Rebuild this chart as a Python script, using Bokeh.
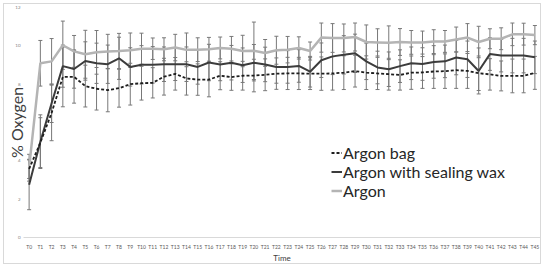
import math
from bokeh.plotting import figure
from bokeh.models import ColumnDataSource, FactorRange, Range1d, FixedTicker, Legend, LegendItem
from bokeh.embed import file_html
from bokeh.resources import INLINE

times = ["T0", "T1", "T2", "T3", "T4", "T5", "T6", "T7", "T8", "T9",
         "T10", "T11", "T12", "T13", "T14", "T15", "T16", "T17", "T18", "T19",
         "T20", "T21", "T22", "T23", "T24", "T25", "T26", "T27", "T28", "T29",
         "T30", "T31", "T32", "T33", "T34", "T35", "T36", "T37", "T38", "T39",
         "T40", "T41", "T42", "T43", "T44", "T45"]

argon_bag = [3.58, 4.95, 6.5, 8.38, 8.38, 7.90, 7.76, 7.69, 7.79, 8.00,
             8.05, 8.07, 8.39, 8.54, 8.30, 8.24, 8.24, 8.44, 8.37, 8.44,
             8.45, 8.49, 8.55, 8.56, 8.56, 8.55, 8.55, 8.56, 8.60, 8.68,
             8.60, 8.56, 8.52, 8.48, 8.60, 8.61, 8.66, 8.68, 8.73, 8.69,
             8.57, 8.51, 8.43, 8.43, 8.43, 8.59]
argon_bag_err = [0.5, 1.3, 1.45, 1.56, 1.37, 1.09, 1.11, 1.13, 0.99, 1.09,
                 0.88, 0.79, 0.96, 0.85, 0.87, 0.82, 0.9, 0.73, 0.69, 0.75,
                 0.85, 0.83, 0.82, 0.84, 0.84, 0.83, 0.87, 0.87, 0.88, 0.83,
                 0.88, 0.84, 0.83, 0.79, 0.87, 0.83, 0.88, 0.9, 0.95, 0.91,
                 0.9, 0.82, 0.78, 0.88, 0.88, 0.86]

argon_wax = [2.75, 5.0, 7.0, 8.94, 8.79, 9.21, 9.09, 9.04, 9.35, 8.90,
             9.01, 9.01, 9.04, 9.04, 9.04, 8.90, 9.13, 9.03, 9.12, 8.99,
             9.12, 9.03, 8.90, 8.90, 8.95, 8.65, 9.25, 9.45, 9.53, 9.61,
             9.19, 8.87, 8.78, 8.94, 9.09, 9.05, 9.16, 9.19, 9.39, 9.30,
             8.69, 9.57, 9.49, 9.49, 9.49, 9.40]
argon_wax_err = [1.3, 1.4, 1.0, 1.1, 1.0, 1.0, 1.05, 1.0, 1.1, 1.0,
                 1.0, 0.95, 0.9, 0.85, 0.9, 0.9, 0.95, 0.85, 0.9, 0.9,
                 0.95, 0.9, 0.85, 0.85, 0.85, 0.8, 0.9, 0.95, 1.0, 1.0,
                 0.95, 0.85, 0.9, 0.85, 0.85, 0.85, 0.85, 0.85, 0.9, 0.95,
                 1.2, 0.85, 0.85, 0.9, 0.9, 0.85]

argon = [3.64, 9.09, 9.19, 10.03, 9.71, 9.56, 9.66, 9.70, 9.73, 9.77,
         9.85, 9.85, 9.82, 9.91, 9.79, 9.80, 9.82, 9.89, 9.85, 9.73,
         9.74, 9.63, 9.77, 9.80, 9.89, 9.73, 10.43, 10.41, 10.41, 10.46,
         10.20, 10.18, 10.16, 10.20, 10.18, 10.17, 10.22, 10.23, 10.33, 10.43,
         10.20, 10.37, 10.37, 10.60, 10.61, 10.56]
argon_err = [0.7, 1.19, 1.19, 1.26, 0.83, 1.25, 1.14, 0.9, 0.92, 0.9,
             0.81, 0.56, 0.6, 0.69, 0.88, 0.62, 0.62, 0.57, 0.64, 0.82,
             1.5, 0.7, 0.73, 0.69, 0.58, 0.47, 0.76, 0.75, 0.73, 0.73,
             0.89, 0.71, 0.88, 0.7, 0.62, 0.6, 0.62, 0.57, 0.65, 0.73,
             0.82, 0.52, 0.57, 0.59, 0.57, 0.5]

y_ticks = [0, 2, 4, 6, 8, 10, 12]

FONT = "Lato"

p = figure(width=538, height=261,
           x_range=FactorRange(factors=times),
           y_range=Range1d(0, 12),
           output_backend="svg", toolbar_location=None,
           min_border_left=19, min_border_right=2,
           min_border_top=3, min_border_bottom=27,
           styles={"margin-left": "3px", "margin-top": "3px",
                   "border": "1px solid #d9d9d9"})
p.outline_line_color = None
p.xgrid.grid_line_color = None
p.ygrid.grid_line_color = None
p.background_fill_color = "white"
p.border_fill_color = "white"

# error bars
err_color = "#787878"
for vals, errs in [(argon, argon_err), (argon_wax, argon_wax_err), (argon_bag, argon_bag_err)]:
    src = ColumnDataSource(dict(
        x=times,
        lower=[v - e for v, e in zip(vals, errs)],
        upper=[v + e for v, e in zip(vals, errs)],
    ))
    p.segment(x0="x", y0="lower", x1="x", y1="upper", source=src,
              line_color=err_color, line_width=1)
    p.dash(x="x", y="upper", source=src, size=4, line_color=err_color, line_width=1)
    p.dash(x="x", y="lower", source=src, size=4, line_color=err_color, line_width=1)

r_argon = p.line(times, argon, line_color="#b4b4b4", line_width=2.5)
r_wax = p.line(times, argon_wax, line_color="#3c3c3c", line_width=2)
r_bag = p.line(times, argon_bag, line_color="#1e1e1e", line_width=1.8, line_dash="3 2")

# axes
p.xaxis.axis_line_color = "#d9d9d9"
p.xaxis.axis_line_width = 1
p.xaxis.major_tick_line_color = None
p.xaxis.minor_tick_line_color = None
p.xaxis.major_tick_out = 0
p.xaxis.major_tick_in = 0
p.xaxis.major_label_standoff = 6
p.xaxis.major_label_text_font = FONT
p.xaxis.major_label_text_font_size = "5px"
p.xaxis.major_label_text_color = "#595959"
p.xaxis.axis_label = "Time"
p.xaxis.axis_label_text_font = FONT
p.xaxis.axis_label_text_font_size = "8px"
p.xaxis.axis_label_text_font_style = "normal"
p.xaxis.axis_label_text_color = "#404040"
p.xaxis.axis_label_standoff = 0

p.yaxis.ticker = FixedTicker(ticks=y_ticks)
p.yaxis.axis_line_color = None
p.yaxis.major_tick_line_color = None
p.yaxis.minor_tick_line_color = None
p.yaxis.major_tick_out = 0
p.yaxis.major_tick_in = 0
p.yaxis.major_label_standoff = 3
p.yaxis.major_label_text_font = FONT
p.yaxis.major_label_text_font_size = "4.5px"
p.yaxis.major_label_text_color = "#7f7f7f"
p.yaxis.axis_label = "% Oxygen"
p.yaxis.axis_label_text_font = FONT
p.yaxis.axis_label_text_font_size = "16px"
p.yaxis.axis_label_text_font_style = "normal"
p.yaxis.axis_label_text_color = "#404040"
p.yaxis.axis_label_standoff = -14

legend = Legend(items=[
    LegendItem(label="Argon bag", renderers=[r_bag]),
    LegendItem(label="Argon with sealing wax", renderers=[r_wax]),
    LegendItem(label="Argon", renderers=[r_argon]),
], location=(308, 37))
legend.label_text_font = FONT
legend.label_text_font_size = "16px"
legend.label_text_color = "#262626"
legend.glyph_width = 11
legend.glyph_height = 19
legend.label_height = 19
legend.label_standoff = 1
legend.spacing = 0
legend.padding = 0
legend.margin = 0
legend.border_line_color = None
legend.background_fill_alpha = 0
p.add_layout(legend)

open("out.html", "w").write(file_html(p, INLINE))
